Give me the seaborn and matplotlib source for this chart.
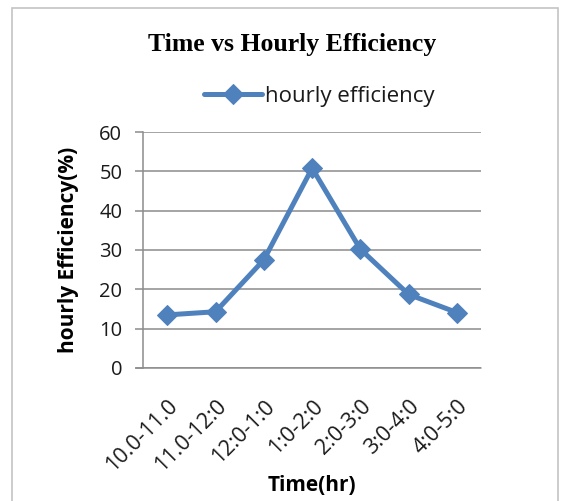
import pandas as pd
import matplotlib.pyplot as plt
import matplotlib.patches as patches
import seaborn as sns

# Data
time_slots = ['10.0-11.0', '11.0-12:0', '12:0-1:0', '1:0-2:0', '2:0-3:0', '3:0-4:0', '4:0-5:0']
efficiency = [13.5, 14.3, 27.5, 50.8, 30.2, 18.7, 14.1]
y_ticks = [0, 10, 20, 30, 40, 50, 60]

LINE_COLOR = '#4F81BD'
GRID_COLOR = '#8C8C8C'


def main():
    sns.set_theme(style='white')
    plt.rcParams['font.family'] = ['Open Sans', 'DejaVu Sans']

    df = pd.DataFrame({'time': time_slots, 'eff': efficiency})

    fig = plt.figure(figsize=(5.68, 5.01), dpi=100)
    ax = fig.add_axes([0.252, 0.2655, 0.595, 0.471])

    # outer chart frame
    fig.patches.append(patches.Rectangle((12 / 568, -0.05), 546 / 568, 1.05 - 8 / 501,
                                         transform=fig.transFigure, fill=False,
                                         edgecolor='#C4C4C4', linewidth=1.2))

    sns.lineplot(data=df, x='time', y='eff', sort=False, ax=ax, color=LINE_COLOR,
                 linewidth=3.6, marker='D', markersize=10, markeredgecolor=LINE_COLOR,
                 label='hourly efficiency')

    ax.set_xlim(-0.5, len(time_slots) - 0.5)
    ax.set_ylim(0, 60)
    ax.set_yticks(y_ticks)
    ax.yaxis.grid(True, color=GRID_COLOR, linewidth=1.1)
    ax.set_axisbelow(True)

    for s in ['top', 'right', 'bottom']:
        ax.spines[s].set_visible(False)
    ax.spines['left'].set_color(GRID_COLOR)
    ax.spines['left'].set_linewidth(1.1)

    ax.tick_params(axis='y', which='major', left=True, length=6, width=1.1,
                   color=GRID_COLOR, labelsize=14.5, labelcolor='#1a1a1a', pad=9)
    ax.tick_params(axis='x', bottom=False, labelsize=15.5, labelcolor='#1a1a1a', pad=14)
    # gridline at zero stretches left like the tick marks
    ax.axhline(0, xmin=-0.02, xmax=1, color=GRID_COLOR, linewidth=1.1, clip_on=False)

    plt.setp(ax.get_xticklabels(), rotation=45, ha='right', rotation_mode='anchor')

    ax.set_xlabel('Time(hr)', fontsize=15, fontweight='bold', color='black')
    ax.set_ylabel('hourly Efficiency(%)', fontsize=15, fontweight='bold', color='black')
    ax.xaxis.set_label_coords(0.5, -0.455)
    ax.yaxis.set_label_coords(-0.19, 0.5)

    fig.text(0.514, 0.912, 'Time vs Hourly Efficiency', ha='center', va='center',
             fontsize=18.5, fontweight='bold', color='black',
             family=['Liberation Serif', 'DejaVu Serif'])

    leg = ax.legend(loc='center', bbox_to_anchor=(0.562, 0.808), bbox_transform=fig.transFigure,
                    frameon=False, fontsize=16, handlelength=2.6, handletextpad=0.15)
    for t in leg.get_texts():
        t.set_color('#1a1a1a')

    fig.savefig('out.png', dpi=100)


if __name__ == "__main__":
    main()
